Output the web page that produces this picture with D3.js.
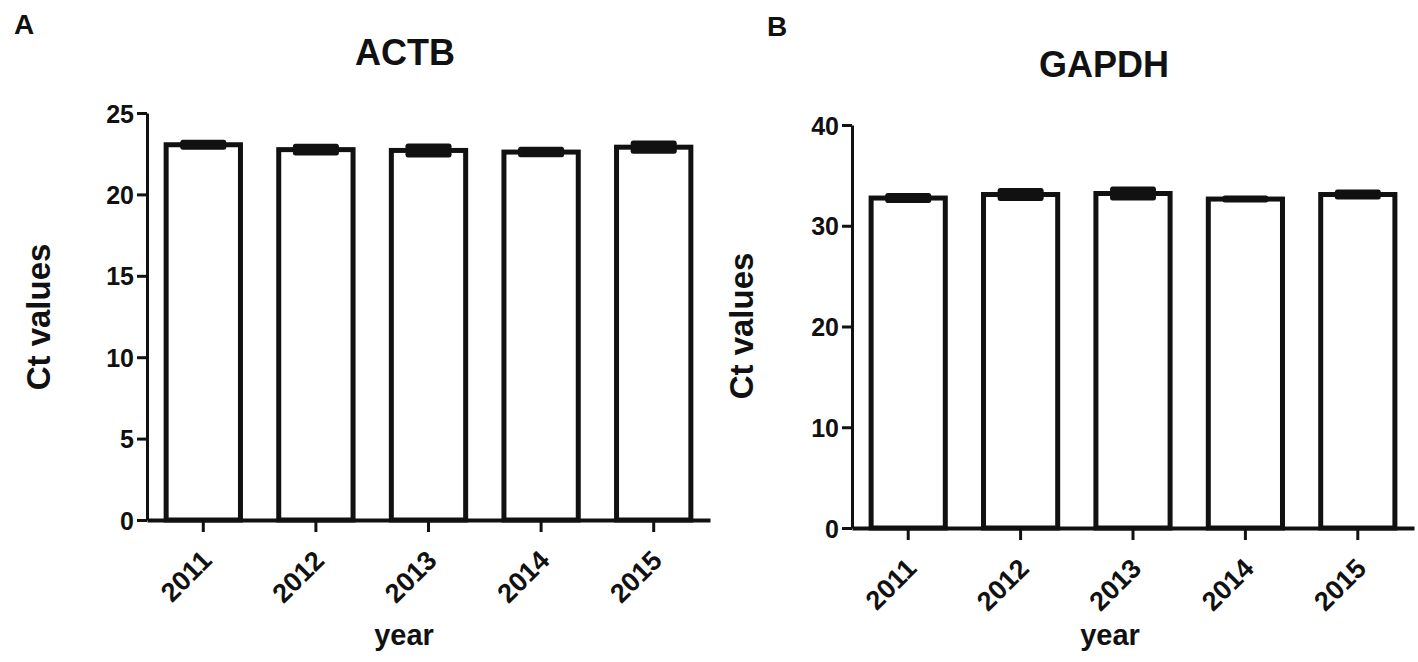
<!DOCTYPE html>
<meta charset="utf-8">
<style>
body {
  margin: 0;
  background: #fff;
  font-family: 'Liberation Sans', Arial, sans-serif;
  font-weight: bold;
}
svg { display: block; }
.axis path, .axis line { stroke: #111; }
.axis text { fill: #111; font-family: 'Liberation Sans', Arial, sans-serif; font-weight: bold; }
rect.bar { fill: #fff; stroke: #111; stroke-width: 5px; }
line.err { stroke: #111; stroke-width: 5px; stroke-linecap: round; }
</style>
<body>
<script src="https://d3js.org/d3.v7.min.js"></script>
<script>

var years = ["2011", "2012", "2013", "2014", "2015"];
var actbMean = [23.05, 22.75, 22.7, 22.6, 22.9];
var actbSem = [0.15, 0.2, 0.28, 0.17, 0.25];
var gapdhMean = [32.75, 33.1, 33.2, 32.65, 33.1];
var gapdhSem = [0.25, 0.4, 0.45, 0.1, 0.25];
var actbTicks = [0, 5, 10, 15, 20, 25];
var gapdhTicks = [0, 10, 20, 30, 40];

var svg = d3.select("body").append("svg")
    .attr("width", 1418)
    .attr("height", 662);

drawPanel({
  letter: "A", letterX: 14, letterY: 34,
  title: "ACTB", titleX: 405, titleY: 65,
  left: 147, right: 710, bottom: 520, top: 113,
  ymax: 25, ticks: actbTicks,
  means: actbMean, sems: actbSem,
  ylabX: 38, ylabY: 317, xlabX: 404
});

drawPanel({
  letter: "B", letterX: 767, letterY: 36,
  title: "GAPDH", titleX: 1104, titleY: 77,
  left: 852, right: 1414, bottom: 528, top: 125,
  ymax: 40, ticks: gapdhTicks,
  means: gapdhMean, sems: gapdhSem,
  ylabX: 741, ylabY: 326, xlabX: 1110
});

function drawPanel(p) {
  var g = svg.append("g");

  var x = d3.scaleBand()
      .domain(years)
      .range([p.left, p.right])
      .paddingInner(0.34)
      .paddingOuter(0.17);

  var y = d3.scaleLinear()
      .domain([0, p.ymax])
      .range([p.bottom, p.top]);

  var data = years.map(function(yr, i) {
    return { year: yr, mean: p.means[i], sem: p.sems[i] };
  });

  // bars
  g.selectAll("rect.bar")
      .data(data)
    .enter().append("rect")
      .attr("class", "bar")
      .attr("x", function(d) { return x(d.year); })
      .attr("width", x.bandwidth())
      .attr("y", function(d) { return y(d.mean); })
      .attr("height", function(d) { return y(0) - y(d.mean); });

  // error bars (caps + stem)
  var capW = x.bandwidth() * 0.55;
  var eb = g.selectAll("g.eb")
      .data(data)
    .enter().append("g")
      .attr("class", "eb");
  eb.append("line").attr("class", "err")
      .attr("x1", function(d) { return x(d.year) + x.bandwidth() / 2 - capW / 2; })
      .attr("x2", function(d) { return x(d.year) + x.bandwidth() / 2 + capW / 2; })
      .attr("y1", function(d) { return y(d.mean + d.sem); })
      .attr("y2", function(d) { return y(d.mean + d.sem); });
  eb.append("line").attr("class", "err")
      .attr("x1", function(d) { return x(d.year) + x.bandwidth() / 2 - capW / 2; })
      .attr("x2", function(d) { return x(d.year) + x.bandwidth() / 2 + capW / 2; })
      .attr("y1", function(d) { return y(d.mean - d.sem); })
      .attr("y2", function(d) { return y(d.mean - d.sem); });
  eb.append("rect")
      .attr("x", function(d) { return x(d.year) + x.bandwidth() / 2 - capW / 2 - 2.5; })
      .attr("width", capW + 5)
      .attr("y", function(d) { return y(d.mean + d.sem); })
      .attr("height", function(d) { return y(d.mean - d.sem) - y(d.mean + d.sem); })
      .attr("fill", "#111");

  // y axis
  var yAxis = g.append("g")
      .attr("class", "axis")
      .attr("transform", "translate(" + p.left + ",0)")
      .call(d3.axisLeft(y).tickValues(p.ticks).tickSize(10).tickSizeOuter(0).tickPadding(3));
  yAxis.selectAll("path, line").attr("stroke-width", 3);
  yAxis.selectAll("text").attr("font-size", 25).attr("dy", "0.36em");

  // x axis
  var xAxis = g.append("g")
      .attr("class", "axis")
      .attr("transform", "translate(0," + p.bottom + ")")
      .call(d3.axisBottom(x).tickSize(12).tickSizeOuter(0));
  xAxis.select("path").attr("stroke-width", 4);
  xAxis.selectAll("line").attr("stroke-width", 3);
  xAxis.selectAll("text")
      .attr("font-size", 27)
      .attr("text-anchor", "end")
      .attr("x", 0).attr("y", 0).attr("dy", 0)
      .attr("transform", "translate(10,42) rotate(-45)");

  // labels
  g.append("text")
      .attr("x", p.letterX).attr("y", p.letterY)
      .attr("font-size", 28).attr("font-weight", "bold").attr("fill", "#111")
      .text(p.letter);

  g.append("text")
      .attr("x", p.titleX).attr("y", p.titleY)
      .attr("text-anchor", "middle")
      .attr("font-size", 36).attr("font-weight", "bold").attr("fill", "#111")
      .text(p.title);

  g.append("text")
      .attr("transform", "translate(" + (p.ylabX + 12) + "," + p.ylabY + ") rotate(-90)")
      .attr("text-anchor", "middle")
      .attr("font-size", 33).attr("font-weight", "bold").attr("fill", "#111")
      .text("Ct values");

  g.append("text")
      .attr("x", p.xlabX).attr("y", 645)
      .attr("text-anchor", "middle")
      .attr("font-size", 29).attr("font-weight", "bold").attr("fill", "#111")
      .text("year");
}

</script>
</body>
